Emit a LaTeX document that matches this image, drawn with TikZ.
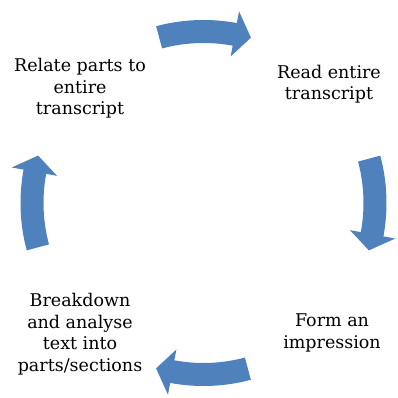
\documentclass[tikz,border=0pt]{standalone}
\usepackage{fontspec}
\setmainfont{DejaVu Serif}
\definecolor{arrowblue}{HTML}{4F81BD}
\tikzset{
  arrowfill/.style={fill=arrowblue},
  steptext/.style={align=center, inner sep=0pt, text=black, font=\fontsize{17.5}{21.5}\selectfont}
}
\begin{document}
\begin{tikzpicture}[x=1pt,y=1pt]
\useasboundingbox (0,0) rectangle (397,398);
\fill[white] (0,0) rectangle (397,398);
\coordinate (C) at (203.5,195);
\foreach \r in {0,-90,-180,-270}{
  \fill[arrowfill, shift={(C)}, rotate=\r]
    (105:183pt) arc[start angle=105, end angle=79.5, radius=183pt]
    -- (79.5:195pt) -- (74:172pt) -- (79.5:149pt) -- (79.5:160pt)
    arc[start angle=79.5, end angle=105, radius=160pt] -- cycle;
}
\node[steptext] (relate) at (80,309.5) {Relate parts to\\entire\\transcript};
\node[steptext] (read) at (329,314) {Read entire\\transcript};
\node[steptext] (form) at (332,65) {Form an\\impression};
\node[steptext] (breakdown) at (80,64) {Breakdown\\and analyse\\text into\\parts/sections};
\end{tikzpicture}
\end{document}
